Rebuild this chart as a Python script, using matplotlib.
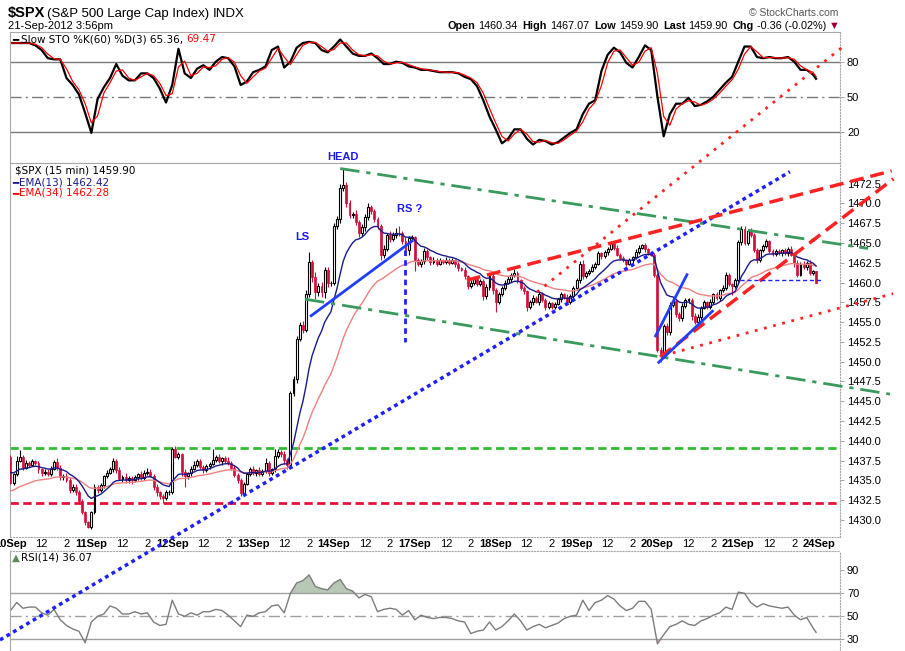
import numpy as np
import pandas as pd
import matplotlib
matplotlib.use('Agg')
import matplotlib.pyplot as plt

plt.rcParams['font.family'] = ['Liberation Sans', 'DejaVu Sans']

W, H = 905, 651

# session labels, 26 bars of 15 min per session
days = ['10Sep', '11Sep', '12Sep', '13Sep', '14Sep', '17Sep', '18Sep',
        '19Sep', '20Sep', '21Sep', '24Sep']
first_open = 1437.92

close_10 = [1434.7, 1435.8, 1437.5, 1437.9, 1436.6, 1437.2, 1437.0, 1437.4, 1437.2, 1436.4, 1435.9, 1436.1, 1435.8,
            1436.5, 1437.3, 1436.6, 1435.4, 1435.6, 1435.1, 1433.8, 1434.2, 1433.6, 1432.4, 1431.0, 1429.8, 1429.1]
close_11 = [1431.0, 1434.2, 1433.8, 1434.4, 1435.5, 1436.0, 1436.4, 1437.5, 1436.3, 1435.2, 1435.4, 1435.0, 1435.3,
            1435.0, 1435.4, 1435.8, 1435.3, 1436.0, 1436.1, 1435.6, 1434.2, 1433.5, 1433.0, 1432.8, 1433.5, 1433.6]
close_12 = [1439.0, 1438.0, 1438.3, 1436.1, 1435.6, 1435.9, 1436.5, 1437.0, 1437.4, 1436.7, 1436.3, 1436.8, 1437.1,
            1437.6, 1437.9, 1437.4, 1437.8, 1437.5, 1437.2, 1436.6, 1435.7, 1435.0, 1433.4, 1434.6, 1435.8, 1436.5]
close_13 = [1436.0, 1436.3, 1435.8, 1436.2, 1437.2, 1436.0, 1436.4, 1438.1, 1438.6, 1438.4, 1437.6, 1437.0, 1446.0,
            1447.8, 1452.9, 1454.6, 1454.0, 1458.6, 1462.6, 1460.7, 1458.8, 1459.6, 1458.8, 1461.6, 1459.9, 1460.0]
close_14 = [1467.2, 1468.0, 1472.0, 1472.3, 1470.0, 1468.5, 1468.6, 1467.6, 1466.2, 1467.0, 1468.3, 1469.5, 1469.0,
            1468.0, 1467.1, 1463.5, 1464.3, 1466.0, 1465.5, 1466.0, 1466.3, 1466.2, 1465.3, 1464.1, 1465.6, 1465.8]
close_17 = [1462.8, 1462.4, 1462.7, 1464.0, 1463.2, 1462.6, 1462.9, 1462.4, 1462.8, 1462.6, 1462.9, 1462.5, 1462.8,
            1462.3, 1461.8, 1461.6, 1460.8, 1459.6, 1459.9, 1460.4, 1459.8, 1460.2, 1458.3, 1459.4, 1460.8, 1459.0]
close_18 = [1457.6, 1458.5, 1459.3, 1460.0, 1460.4, 1460.9, 1461.2, 1460.3, 1459.3, 1458.9, 1456.9, 1457.5, 1458.1,
            1457.6, 1458.5, 1457.8, 1456.9, 1457.4, 1456.9, 1457.3, 1457.9, 1458.5, 1458.2, 1457.6, 1458.3, 1459.3]
close_19 = [1460.3, 1462.4, 1460.8, 1461.2, 1461.5, 1462.0, 1462.4, 1463.7, 1463.3, 1463.8, 1464.3, 1465.0, 1464.4,
            1463.5, 1463.1, 1462.8, 1462.4, 1462.8, 1463.2, 1463.9, 1464.4, 1464.7, 1464.2, 1463.7, 1463.5, 1461.0]
close_20 = [1451.5, 1451.0, 1454.5, 1453.7, 1457.2, 1457.7, 1456.0, 1455.5, 1457.0, 1457.8, 1457.8, 1455.8, 1455.0,
            1455.6, 1456.8, 1457.5, 1456.9, 1457.6, 1458.5, 1458.0, 1459.0, 1459.3, 1461.0, 1459.8, 1459.6, 1460.3]
close_21 = [1465.1, 1466.8, 1465.0, 1466.5, 1466.0, 1464.1, 1462.8, 1464.1, 1464.6, 1465.2, 1464.0, 1463.6, 1464.0,
            1463.7, 1464.1, 1463.7, 1464.3, 1463.5, 1462.5, 1461.0, 1462.4, 1462.0, 1462.5, 1461.2, 1461.4, 1459.9]

# wick lengths above / below the candle body
up_10 = [0.3, 0.2, 0.6, 0.9, 0.3, 0.4, 0.2, 0.3, 0.2, 0.3, 0.2, 0.4, 0.3, 0.3, 0.3, 0.5, 0.3, 0.2, 0.3, 0.3, 0.4, 0.3, 0.2, 0.3, 0.2, 0.1]
dn_10 = [0.2, 0.3, 0.2, 0.2, 0.3, 0.2, 0.3, 0.2, 0.3, 0.4, 0.3, 0.2, 0.3, 0.2, 0.2, 0.3, 0.4, 0.3, 0.3, 0.4, 0.3, 0.4, 0.3, 0.3, 0.4, 0.1]
up_11 = [0.2, 0.3, 0.2, 0.3, 0.2, 0.3, 0.3, 0.3, 0.2, 0.4, 0.3, 0.6, 0.3, 0.2, 0.3, 0.2, 0.4, 0.3, 0.5, 0.3, 0.2, 0.3, 0.2, 0.3, 0.3, 0.2]
dn_11 = [0.3, 0.2, 0.4, 0.2, 0.3, 0.2, 0.2, 0.3, 0.3, 0.2, 0.4, 0.3, 0.3, 0.4, 0.2, 0.3, 0.3, 0.2, 0.3, 0.2, 0.4, 0.5, 0.4, 0.6, 0.3, 0.3]
up_12 = [0.2, 0.4, 0.3, 0.2, 0.3, 0.2, 0.3, 0.5, 0.3, 0.3, 0.2, 0.3, 0.2, 1.4, 0.3, 0.4, 0.2, 0.3, 0.4, 0.2, 0.3, 0.2, 0.3, 0.2, 0.3, 0.2]
dn_12 = [0.3, 0.2, 0.3, 0.5, 1.4, 0.4, 0.3, 0.2, 0.3, 0.3, 0.4, 0.2, 0.3, 0.2, 0.3, 0.2, 0.4, 0.3, 0.2, 0.3, 0.3, 0.3, 0.4, 0.3, 0.2, 0.3]
up_13 = [0.3, 0.2, 0.4, 0.3, 0.6, 0.3, 0.2, 0.9, 0.4, 0.3, 0.3, 0.2, 0.3, 0.4, 0.3, 0.4, 0.5, 0.4, 1.2, 0.3, 0.6, 0.3, 0.5, 0.4, 0.3, 0.2]
dn_13 = [0.3, 0.4, 0.3, 0.3, 0.3, 0.4, 0.3, 0.3, 0.3, 0.4, 0.5, 0.6, 0.4, 0.3, 0.5, 0.3, 0.4, 0.3, 0.4, 0.6, 0.9, 0.5, 0.6, 0.8, 0.5, 0.4]
up_14 = [0.3, 0.4, 0.5, 2.2, 0.4, 0.4, 0.3, 0.6, 0.3, 0.4, 0.3, 0.5, 0.3, 0.3, 0.3, 0.3, 0.4, 0.3, 0.5, 0.4, 0.6, 0.9, 0.3, 0.4, 0.3, 0.2]
dn_14 = [0.3, 0.4, 0.5, 0.4, 0.5, 0.3, 0.4, 0.3, 0.4, 0.3, 0.5, 0.4, 0.3, 0.4, 0.3, 0.7, 0.4, 0.3, 0.4, 0.3, 0.4, 0.3, 0.4, 0.3, 0.6, 0.3]
up_17 = [0.1, 0.3, 0.3, 0.4, 0.3, 0.2, 0.3, 0.2, 0.3, 0.2, 0.3, 0.2, 0.3, 0.2, 0.3, 0.2, 0.3, 0.2, 0.4, 0.3, 0.2, 0.3, 0.2, 0.4, 0.3, 0.4]
dn_17 = [1.3, 0.3, 0.4, 0.3, 0.3, 0.4, 0.3, 0.3, 0.2, 0.3, 0.2, 0.3, 0.2, 0.3, 0.3, 0.2, 0.3, 0.4, 0.3, 0.2, 0.3, 0.3, 0.5, 0.4, 0.3, 0.4]
up_18 = [0.3, 0.3, 0.2, 0.3, 0.4, 0.3, 0.5, 0.3, 0.2, 0.3, 0.2, 0.3, 0.3, 0.2, 0.3, 0.3, 0.2, 0.3, 0.2, 0.3, 0.2, 0.3, 0.2, 0.3, 0.3, 0.2]
dn_18 = [1.3, 0.3, 0.2, 0.3, 0.2, 0.3, 0.2, 0.3, 0.3, 0.3, 0.5, 0.3, 0.3, 0.2, 0.4, 0.3, 0.4, 0.3, 0.2, 0.3, 0.2, 0.3, 0.3, 0.2, 0.3, 0.3]
up_19 = [0.3, 0.3, 0.4, 0.3, 0.2, 0.3, 0.2, 0.3, 0.2, 0.3, 0.2, 0.3, 0.2, 0.3, 0.2, 0.3, 0.2, 0.3, 0.2, 0.3, 0.4, 0.2, 0.3, 0.2, 0.3, 0.2]
dn_19 = [0.3, 0.4, 0.3, 0.2, 0.3, 0.2, 0.3, 0.2, 0.3, 0.2, 0.3, 0.2, 0.3, 0.2, 0.3, 0.2, 0.3, 0.2, 0.3, 0.2, 0.3, 0.2, 0.3, 0.2, 0.2, 0.3]
up_20 = [0.2, 0.3, 0.3, 0.4, 0.3, 0.3, 0.2, 0.3, 0.4, 0.2, 0.3, 0.2, 0.3, 0.4, 0.2, 0.3, 0.2, 0.3, 0.2, 0.3, 0.2, 0.4, 0.3, 0.2, 0.2, 0.3]
dn_20 = [0.3, 1.0, 0.4, 0.3, 0.3, 0.3, 0.4, 0.3, 0.3, 0.2, 0.4, 0.5, 0.3, 0.2, 0.3, 0.2, 0.3, 0.2, 0.3, 0.2, 0.3, 0.2, 0.3, 0.3, 1.2, 0.3]
up_21 = [0.3, 0.3, 0.3, 0.3, 0.4, 0.2, 0.3, 0.2, 0.3, 0.3, 0.2, 0.3, 0.2, 0.3, 0.2, 0.3, 0.2, 0.3, 0.2, 0.3, 0.2, 0.3, 0.2, 0.3, 0.2, 0.1]
dn_21 = [0.2, 0.3, 0.3, 0.2, 0.3, 0.3, 0.3, 0.2, 0.3, 0.2, 0.3, 0.2, 0.3, 0.2, 0.3, 0.2, 0.3, 0.2, 0.5, 0.3, 0.2, 0.3, 0.4, 0.3, 0.2, 0.0]

# EMA values just before the first visible bar
ema13_seed = 1436.2
ema34_seed = 1433.6

# indicator panels, sampled every second bar
ind_idx = list(range(0, 260, 2)) + [259]
sto_k = [96, 96, 96, 96, 94, 90, 83, 82, 82, 66,
         60, 52, 36, 19, 48, 58, 66, 78, 68, 64,
         64, 70, 70, 66, 57, 45, 60, 91, 70, 66,
         74, 77, 73, 80, 84, 83, 76, 60, 63, 71,
         73, 76, 90, 93, 75, 80, 92, 96, 97, 96,
         90, 88, 93, 99, 93, 87, 85, 85, 87, 83,
         78, 78, 80, 79, 76, 75, 73, 73, 72, 71,
         71, 71, 70, 67, 65, 59, 47, 33, 22, 10,
         14, 22, 22, 14, 9, 13, 12, 9, 11, 15,
         19, 22, 35, 44, 47, 72, 86, 92, 88, 79,
         75, 84, 94, 90, 50, 16, 35, 44, 44, 49,
         42, 43, 46, 50, 56, 62, 67, 80, 93, 93,
         84, 83, 84, 83, 83, 84, 80, 73, 73, 69,
         65.36]
rsi = [55, 62, 57, 58, 58, 53, 51, 56, 47, 42,
       39, 37, 27, 45, 50, 52, 59, 57, 52, 52,
       54, 52, 53, 45, 42, 43, 64, 52, 50, 53,
       51, 54, 54, 56, 55, 51, 46, 41, 51, 50,
       53, 54, 59, 60, 53, 70, 79, 81, 86, 76,
       74, 73, 79, 82, 74, 72, 66, 69, 67, 54,
       56, 57, 56, 51, 55, 47, 51, 49, 48, 49,
       49, 48, 46, 45, 35, 37, 38, 45, 38, 41,
       46, 52, 46, 38, 41, 43, 40, 42, 44, 48,
       50, 51, 64, 55, 62, 64, 68, 65, 59, 55,
       57, 63, 63, 56, 26, 34, 41, 43, 46, 43,
       42, 46, 48, 51, 53, 58, 56, 71, 70, 62,
       58, 61, 59, 58, 57, 58, 51, 47, 49, 40,
       36.07]

support_top = 1439.1
support_bot = 1432.2

# hand drawn trend lines: (bar, price) -> (bar, price)
green_upper = [(106.0, 1474.4), (275.7, 1464.3)]
green_lower = [(94.7, 1457.9), (282.8, 1445.9)]
blue_long = [(-3.38, 1414.85), (250.6, 1474.0)]
red_dot_steep = [(169.3, 1458.8), (268.3, 1490.0)]
red_dash_upper = [(146.7, 1460.3), (283.3, 1474.1)]
red_dash_lower = [(208.9, 1450.6), (283.9, 1473.1)]
red_dot_lower = [(210.0, 1450.8), (283.8, 1458.6)]
blue_neck = [(96.3, 1455.7), (129.5, 1465.35)]
blue_rs = [(126.8, 1464.1), (126.8, 1452.5)]
blue_fast = [(207.2, 1453.1), (217.7, 1461.15)]
blue_slow = [(208.1, 1449.8), (226.0, 1456.5)]
prev_close = [(234.5, 1460.26), (260.8, 1460.26)]

close = np.array(close_10 + close_11 + close_12 + close_13 + close_14 +
                 close_17 + close_18 + close_19 + close_20 + close_21)
up_w = np.array(up_10 + up_11 + up_12 + up_13 + up_14 + up_17 + up_18 + up_19 + up_20 + up_21)
dn_w = np.array(dn_10 + dn_11 + dn_12 + dn_13 + dn_14 + dn_17 + dn_18 + dn_19 + dn_20 + dn_21)
opn = np.r_[first_open, close[:-1]]
hi = np.maximum(opn, close) + up_w
lo = np.minimum(opn, close) - dn_w
x = np.arange(len(close))


def ema(values, n, seed):
    a = 2.0 / (n + 1)
    out = []
    e = seed
    for v in values:
        e = e + a * (v - e)
        out.append(e)
    return np.array(out)


ema13 = ema(close, 13, ema13_seed)
ema34 = ema(close, 34, ema34_seed)
sto_d = pd.Series(sto_k).rolling(2, min_periods=1).mean()
rsi = np.array(rsi, dtype=float)

XL = (-0.16, 266.7)
fig = plt.figure(figsize=(9.05, 6.51), dpi=100)
ax_sto = fig.add_axes([10 / W, 1 - 162.7 / H, 830 / W, 130.4 / H])
ax_rsi = fig.add_axes([10 / W, 0, 830 / W, 100 / H])
ax = fig.add_axes([10 / W, 1 - 536.7 / H, 830 / W, 374 / H])


def style(a):
    a.set_xlim(*XL)
    a.yaxis.tick_right()
    a.tick_params(axis='y', direction='out', length=3, width=0.6, color='#999999',
                  labelsize=8, pad=2)
    a.tick_params(axis='x', length=0)
    for s in a.spines.values():
        s.set_color('#a8a8a8')
        s.set_linewidth(0.8)
    a.spines['right'].set_linestyle(':')


# ---- slow stochastics
style(ax_sto)
ax_sto.set_ylim(-6.6, 105.2)
ax_sto.set_yticks([20, 50, 80])
ax_sto.set_xticks([])
for lv in (20, 80):
    ax_sto.axhline(lv, color='#7a7a7a', lw=1)
ax_sto.axhline(50, color='#7a7a7a', lw=1, ls=(0, (8, 3, 1.5, 3)))
ax_sto.plot(ind_idx, sto_k, color='black', lw=1.6)
ax_sto.plot(ind_idx, sto_d, color='#ff0000', lw=0.9)

# ---- RSI
style(ax_rsi)
ax_rsi.set_ylim(19.8, 106.8)
ax_rsi.set_yticks([30, 50, 70, 90])
ax_rsi.set_xticks([])
ax_rsi.spines['top'].set_linestyle(':')
for lv in (30, 70):
    ax_rsi.axhline(lv, color='#a0a0a0', lw=1)
ax_rsi.axhline(50, color='#a0a0a0', lw=1, ls=(0, (8, 3, 1.5, 3)))
ax_rsi.fill_between(ind_idx, rsi, 70, where=rsi > 70, interpolate=True,
                    color='#b7c8b7', lw=0)
ax_rsi.fill_between(ind_idx, rsi, 30, where=rsi < 30, interpolate=True,
                    color='#e6b3b8', lw=0)
ax_rsi.plot(ind_idx, rsi, color='#7c7c7c', lw=1)

# ---- price panel
style(ax)
ax.set_ylim(1427.89, 1475.14)
ax.set_yticks(np.arange(1430, 1473, 2.5))
ax.set_yticklabels(['%.1f' % v for v in np.arange(1430, 1473, 2.5)])
ax.spines['bottom'].set_linestyle(':')

ax.axhline(support_top, color='#33bb33', lw=2, ls=(0, (3, 1.6)))
ax.axhline(support_bot, color='#e8103a', lw=2, ls=(0, (3, 1.6)))

red = '#d0103a'
rise = close >= opn
body_lo = np.minimum(opn, close)
body_h = np.maximum(np.abs(close - opn), 0.08)
ax.vlines(x[rise], lo[rise], hi[rise], color='black', lw=0.8, zorder=3)
ax.vlines(x[~rise], lo[~rise], hi[~rise], color=red, lw=0.8, zorder=3)
ax.bar(x[rise], body_h[rise], bottom=body_lo[rise], width=0.62,
       facecolor='white', edgecolor='black', lw=0.8, zorder=4)
ax.bar(x[~rise], body_h[~rise], bottom=body_lo[~rise], width=0.62,
       facecolor=red, edgecolor=red, lw=0.5, zorder=4)

ax.plot(x, ema34, color='#f08080', lw=1, zorder=5)
ax.plot(x, ema13, color='#1a1a8c', lw=1, zorder=5)


def seg(line, **kw):
    (x0, y0), (x1, y1) = line
    ax.plot([x0, x1], [y0, y1], clip_on=False, zorder=6, solid_capstyle='butt', **kw)


dashdot = (0, (7, 2.5, 1.5, 2.5))
seg(green_upper, color='#3a9a5c', lw=2, ls=dashdot)
seg(green_lower, color='#3a9a5c', lw=2, ls=dashdot)
seg(blue_long, color='#1f1fff', lw=2.5, ls=(0, (1.1, 1.1)))
seg(red_dot_steep, color='#ff2222', lw=2, ls=(0, (1, 2.4)))
seg(red_dot_lower, color='#ff2222', lw=2, ls=(0, (1, 2.4)))
seg(red_dash_upper, color='#ff2222', lw=2.5, ls=(0, (4, 2)))
seg(red_dash_lower, color='#ff2222', lw=2.5, ls=(0, (4, 2)))
seg(blue_neck, color='#1f3fff', lw=2)
seg(blue_fast, color='#1f3fff', lw=2)
seg(blue_slow, color='#1f3fff', lw=2)
seg(blue_rs, color='#1f1fff', lw=2, ls=(0, (2, 1.5)))
seg(prev_close, color='#1f1fff', lw=1, ls=(0, (3, 2)))

ann = dict(color='#1a1aee', fontweight='bold', fontsize=8, ha='center', va='center')
ax.text(106.9, 1475.86, 'HEAD', **ann)
ax.text(93.9, 1465.7, 'LS', **ann)
ax.text(128.5, 1469.25, 'RS ?', **ann)

# date / time labels
ticks, labels, bold = [], [], []
for k, d in enumerate(days):
    s = 26 * k
    ticks.append(s)
    labels.append(d)
    bold.append(True)
    if k < len(days) - 1:
        ticks += [s + 10, s + 18]
        labels += ['12', '2']
        bold += [False, False]
ax.set_xticks(ticks)
ax.set_xticklabels(labels)
ax.tick_params(axis='x', labelsize=8, pad=2)
for lab, b in zip(ax.get_xticklabels(), bold):
    lab.set_fontweight('bold' if b else 'normal')


# ---- header and legend texts
def runs(x_px, y_px, parts, size, family=None, align='left'):
    r = fig.canvas.get_renderer()
    items = []
    for s, col, wt, gap in parts:
        t = fig.text(0, 1 - y_px / H, s, fontsize=size, color=col, fontweight=wt,
                     va='baseline', ha='left')
        if family:
            t.set_family(family)
        w = t.get_window_extent(renderer=r).width
        items.append((t, w, gap))
    total = sum(w + g for _, w, g in items) - items[-1][2]
    xx = x_px - total if align == 'right' else x_px
    for t, w, g in items:
        t.set_x(xx / W)
        xx += w + g


runs(8, 17, [('$SPX', 'black', 'bold', 5),
             ('(S&P 500 Large Cap Index)', 'black', 'normal', 4),
             ('INDX', 'black', 'normal', 0)], 9.5)
fig.texts[-3].set_fontsize(10.5)
fig.text(8 / W, 1 - 29 / H, '21-Sep-2012 3:56pm', fontsize=8, va='baseline')
fig.text(838 / W, 1 - 16 / H, '\u00a9 StockCharts.com', fontsize=7.5, color='#555555',
         ha='right', va='baseline')
runs(840, 29, [('Open', 'black', 'bold', 3), ('1460.34', 'black', 'normal', 5),
               ('High', 'black', 'bold', 3), ('1467.07', 'black', 'normal', 5),
               ('Low', 'black', 'bold', 3), ('1459.90', 'black', 'normal', 5),
               ('Last', 'black', 'bold', 3), ('1459.90', 'black', 'normal', 5),
               ('Chg', 'black', 'bold', 3), ('-0.36 (-0.02%)', 'black', 'normal', 3),
               ('\u25bc', '#990033', 'normal', 0)], 7.8, align='right')

leg = ['DejaVu Sans']
runs(12, 42, [('\u2501', 'black', 'normal', 3),
              ('Slow STO %K(60) %D(3) 65.36,', 'black', 'normal', 3),
              ('69.47', '#ff0000', 'normal', 0)], 7.5, family=leg)
runs(15, 174, [('$SPX (15 min) 1459.90', 'black', 'normal', 0)], 7.5, family=leg)
runs(12, 185, [('\u2501', '#1a1a8c', 'normal', 1),
               ('EMA(13) 1462.42', '#1a1a8c', 'normal', 0)], 7.5, family=leg)
runs(12, 196, [('\u2501', '#ff0000', 'normal', 1),
               ('EMA(34) 1462.28', '#ff0000', 'normal', 0)], 7.5, family=leg)
runs(12, 561, [('\u25b2', '#5e8a5e', 'normal', 1),
               ('RSI(14) 36.07', 'black', 'normal', 0)], 7.5, family=leg)

fig.savefig('out.png', dpi=100, facecolor='white')
